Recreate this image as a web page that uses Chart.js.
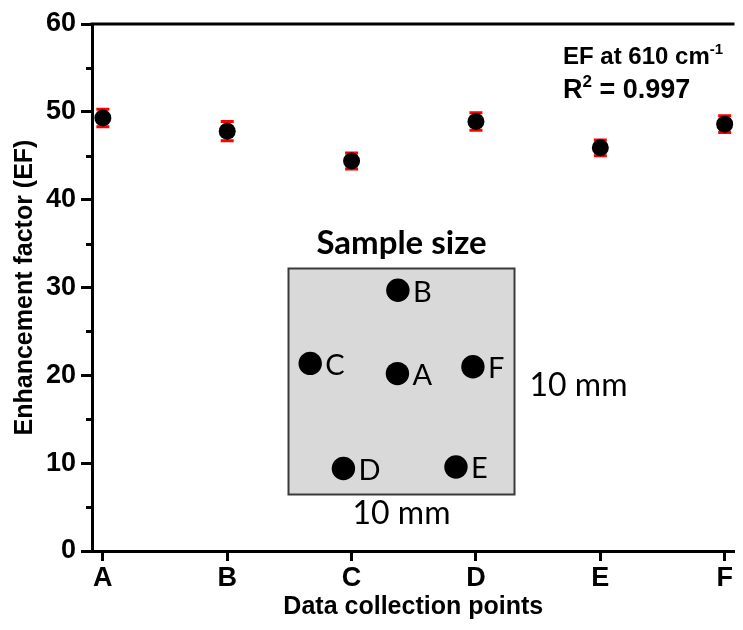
<!DOCTYPE html>
<html>
<head>
<meta charset="utf-8">
<script src="https://cdn.jsdelivr.net/npm/chart.js@4.4.1/dist/chart.umd.min.js"></script>
<style>
  html, body { margin: 0; padding: 0; background: #fff; overflow: hidden; }
  #wrap { width: 743px; height: 630px; }
</style>
</head>
<body>
<div id="wrap"><canvas id="c" width="743" height="630"></canvas></div>
<script>
// Measurement sites and enhancement factors
const points   = ['A', 'B', 'C', 'D', 'E', 'F'];
const efValues = [49.3, 47.8, 44.4, 48.9, 45.9, 48.6];
const efErrors = [1.0, 1.1, 0.9, 1.0, 0.9, 0.95];
const yTicks   = [0, 10, 20, 30, 40, 50, 60];
const yMinor   = [5, 15, 25, 35, 45, 55];

// Site locations on the 10 mm x 10 mm sample (mm from lower-left corner)
const siteX = [4.82, 4.84, 0.96, 2.43, 7.41, 8.16];
const siteY = [5.35, 9.04, 5.80, 1.15, 1.22, 5.65];
const sampleSizeMm = 10;

const AXIS_FONT = 'Liberation Sans, Arial, sans-serif';
const INSET_FONT = 'Lato, "Open Sans", sans-serif';

// Top frame line and minor ticks on the y axis
const framePlugin = {
  id: 'frame',
  afterDraw(chart) {
    const { ctx, chartArea: a, scales: { y } } = chart;
    ctx.save();
    ctx.strokeStyle = '#000';
    ctx.lineWidth = 3;
    ctx.beginPath();
    ctx.moveTo(a.left - 1.5, a.top);
    ctx.lineTo(a.right, a.top);
    ctx.stroke();
    yMinor.forEach(v => {
      const py = Math.round(y.getPixelForValue(v)) + 0.5;
      ctx.beginPath();
      ctx.moveTo(a.left - 6, py);
      ctx.lineTo(a.left, py);
      ctx.stroke();
    });
    ctx.restore();
  }
};

// Red error bars with caps, drawn under the markers
const errorBarPlugin = {
  id: 'errorBars',
  beforeDatasetsDraw(chart) {
    const { ctx, scales: { x, y } } = chart;
    ctx.save();
    ctx.strokeStyle = '#ff0000';
    ctx.lineWidth = 3;
    efValues.forEach((v, i) => {
      const px = x.getPixelForValue(i);
      const top = y.getPixelForValue(v + efErrors[i]);
      const bot = y.getPixelForValue(v - efErrors[i]);
      ctx.beginPath();
      ctx.moveTo(px, top); ctx.lineTo(px, bot);
      ctx.moveTo(px - 6.5, top); ctx.lineTo(px + 6.5, top);
      ctx.moveTo(px - 6.5, bot); ctx.lineTo(px + 6.5, bot);
      ctx.stroke();
    });
    ctx.restore();
  }
};

// Text with a raised superscript part
function supText(ctx, x, y, parts) {
  let cx = x;
  parts.forEach(p => {
    ctx.font = `bold ${p.size}px ${AXIS_FONT}`;
    ctx.fillText(p.text, cx, y - (p.rise || 0));
    cx += ctx.measureText(p.text).width;
  });
}

const annotationPlugin = {
  id: 'annotation',
  afterDraw(chart) {
    const { ctx, chartArea: a } = chart;
    ctx.save();
    ctx.fillStyle = '#000';
    ctx.textAlign = 'left';
    ctx.textBaseline = 'alphabetic';
    const x0 = a.left + 471;
    supText(ctx, x0, a.top + 40, [
      { text: 'EF at 610 cm', size: 24 },
      { text: '-1', size: 15, rise: 10 }
    ]);
    supText(ctx, x0, a.top + 74, [
      { text: 'R', size: 27 },
      { text: '2', size: 17, rise: 11 },
      { text: ' = 0.997', size: 27 }
    ]);
    ctx.restore();
  }
};

// Sample schematic: square with the six measurement sites
const insetPlugin = {
  id: 'sampleInset',
  afterDraw(chart) {
    const { ctx, chartArea: a } = chart;
    const left = a.left + 196.5, top = a.top + 244.5, size = 226;
    const scale = size / sampleSizeMm;
    ctx.save();
    ctx.fillStyle = '#d9d9d9';
    ctx.fillRect(left, top, size, size);
    ctx.strokeStyle = '#3a3a3a';
    ctx.lineWidth = 2;
    ctx.strokeRect(left, top, size, size);

    ctx.fillStyle = '#000';
    ctx.textAlign = 'center';
    ctx.textBaseline = 'middle';
    ctx.font = `bold 33px ${INSET_FONT}`;
    ctx.fillText('Sample size', left + size / 2, top - 25);

    ctx.font = `29px ${INSET_FONT}`;
    ctx.textAlign = 'left';
    points.forEach((p, i) => {
      const cx = left + siteX[i] * scale;
      const cy = top + size - siteY[i] * scale;
      ctx.beginPath();
      ctx.arc(cx, cy, 11.7, 0, Math.PI * 2);
      ctx.fill();
      ctx.fillText(p, cx + 15, cy + 2);
    });

    ctx.font = `32px ${INSET_FONT}`;
    ctx.textAlign = 'center';
    ctx.fillText('10 mm', left + size / 2, top + size + 19);
    ctx.textAlign = 'left';
    ctx.fillText('10 mm', left + size + 15, top + size / 2 + 4);
    ctx.restore();
  }
};

const tickFont = { family: AXIS_FONT, size: 27, weight: 'bold' };
const titleFont = { family: AXIS_FONT, size: 25, weight: 'bold' };

new Chart(document.getElementById('c'), {
  type: 'scatter',
  data: {
    datasets: [{
      data: efValues.map((v, i) => ({ x: i, y: v })),
      backgroundColor: '#000',
      borderColor: '#000',
      borderWidth: 0,
      pointRadius: 8.5,
      pointHoverRadius: 8.5,
      clip: false
    }]
  },
  options: {
    responsive: false,
    devicePixelRatio: 1,
    animation: false,
    events: [],
    layout: { padding: { top: 24, right: 0, left: 0, bottom: 0 } },
    plugins: { legend: { display: false }, tooltip: { enabled: false } },
    scales: {
      x: {
        type: 'linear',
        min: -0.0873,
        max: 5.079,
        afterBuildTicks: s => { s.ticks = points.map((_, i) => ({ value: i })); },
        afterFit: s => { s.height = 79; },
        ticks: {
          callback: v => points[v] ?? '',
          font: tickFont,
          color: '#000',
          padding: 1,
          maxRotation: 0,
          autoSkip: false
        },
        grid: { drawOnChartArea: false, drawTicks: true, tickLength: 10, tickWidth: 3, tickColor: '#000' },
        border: { display: true, width: 3, color: '#000' },
        title: { display: true, text: 'Data collection points', font: titleFont, color: '#000', padding: { top: 0, bottom: 8 } }
      },
      y: {
        min: 0,
        max: 60,
        afterBuildTicks: s => { s.ticks = yTicks.map(v => ({ value: v })); },
        afterFit: s => { s.width = 92; },
        ticks: { font: tickFont, color: '#000', padding: 5 },
        grid: { drawOnChartArea: false, drawTicks: true, tickLength: 11, tickWidth: 3, tickColor: '#000' },
        border: { display: true, width: 3, color: '#000' },
        title: { display: true, text: 'Enhancement factor (EF)', font: titleFont, color: '#000', padding: { top: 10, bottom: 0 } }
      }
    }
  },
  plugins: [errorBarPlugin, framePlugin, annotationPlugin, insetPlugin]
});
</script>
</body>
</html>
